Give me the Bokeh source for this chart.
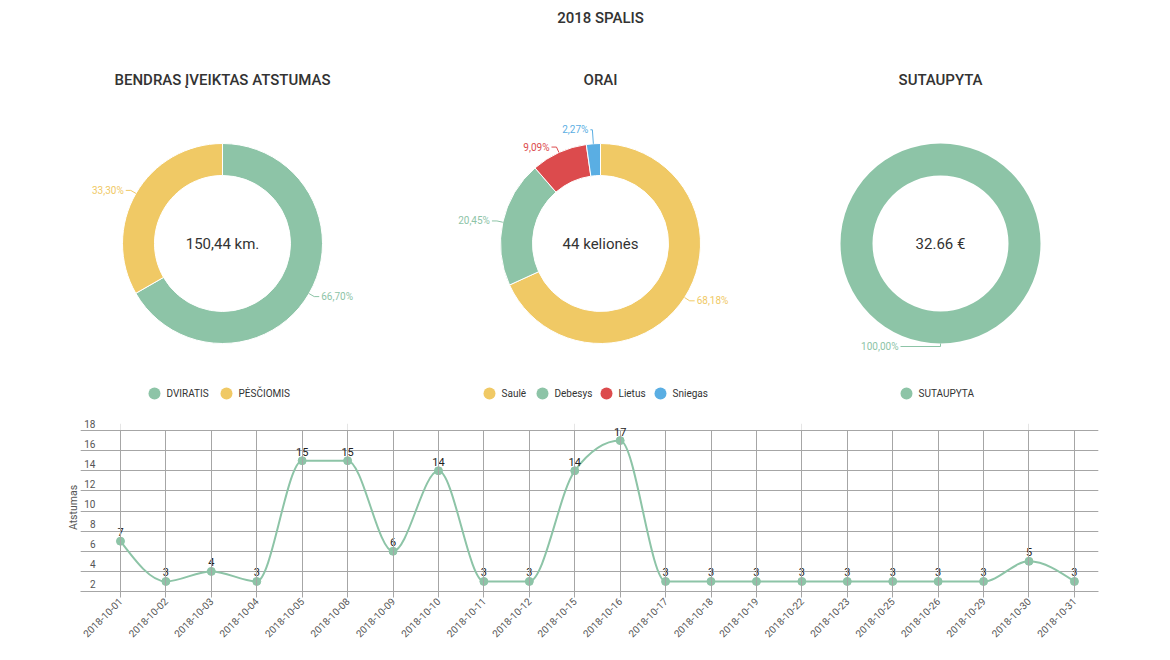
import math
import numpy as np
from bokeh.plotting import figure
from bokeh.layouts import column
from bokeh.models import Range1d, FixedTicker, LinearAxis, Grid, ColumnDataSource
from bokeh.core.properties import value
from bokeh.embed import file_html
from bokeh.resources import INLINE

# ---------------- data ----------------
MAIN_TITLE = "2018 SPALIS"

DIST_TITLE = "BENDRAS ĮVEIKTAS ATSTUMAS"
DIST_CATS = ["DVIRATIS", "PĖSČIOMIS"]
DIST_PCT = [66.70, 33.30]
DIST_CENTER = "150,44 km."

WEATHER_TITLE = "ORAI"
WEATHER_CATS = ["Saulė", "Debesys", "Lietus", "Sniegas"]
WEATHER_PCT = [68.18, 20.45, 9.09, 2.27]
WEATHER_CENTER = "44 kelionės"

SAVED_TITLE = "SUTAUPYTA"
SAVED_CATS = ["SUTAUPYTA"]
SAVED_PCT = [100.00]
SAVED_CENTER = "32.66 €"

DATES = ["2018-10-01", "2018-10-02", "2018-10-03", "2018-10-04", "2018-10-05",
         "2018-10-08", "2018-10-09", "2018-10-10", "2018-10-11", "2018-10-12",
         "2018-10-15", "2018-10-16", "2018-10-17", "2018-10-18", "2018-10-19",
         "2018-10-22", "2018-10-23", "2018-10-25", "2018-10-26", "2018-10-29",
         "2018-10-30", "2018-10-31"]
DISTANCE = [7, 3, 4, 3, 15, 15, 6, 14, 3, 3, 14, 17, 3, 3, 3, 3, 3, 3, 3, 3, 5, 3]
Y_TICKS = [2, 4, 6, 8, 10, 12, 14, 16, 18]
Y_LABEL = "Atstumas"

# ---------------- style ----------------
GREEN = "#8dc4a7"
YELLOW = "#f0c965"
RED = "#dc4b4d"
BLUE = "#5aaee3"
DARK = "#333333"
GRID = "#a6a6a6"
FONT_NAME = "Roboto"
FONT = value(FONT_NAME)
FONT_M = value("Roboto Medium, Roboto")

W = 1154
H_TOP = 408
H_BOT = 250
BL, BR = 80, 56          # shared left/right borders (column aligns frames)
R_OUT = 100
R_IN = 68


def fx(page_x):
    return page_x


def fy(page_y):
    return H_TOP - page_y


top = figure(width=W, height=H_TOP, x_range=Range1d(BL, W - BR), y_range=Range1d(0, H_TOP),
             output_backend="svg", toolbar_location=None,
             x_axis_location=None, y_axis_location=None,
             min_border_left=BL, min_border_right=BR, min_border_top=0, min_border_bottom=0)
top.grid.visible = False
top.outline_line_color = None
top.background_fill_color = "white"
top.border_fill_color = "white"

top.text(x=[fx(600)], y=[fy(17)], text=[MAIN_TITLE], text_align="center",
         text_baseline="middle", text_font=FONT_M, text_font_size="15px", text_color=DARK)


def pct_label(v):
    return ("%.2f" % v).replace(".", ",") + "%"


def donut(cx_page, pcts, cats, colors, title, center, legend_px, l1, l2):
    cx, cy = fx(cx_page), fy(243)
    total = float(sum(pcts))
    cum = np.concatenate([[0.0], np.cumsum(pcts)]) / total
    start = np.pi / 2 - 2 * np.pi * cum[:-1]
    end = np.pi / 2 - 2 * np.pi * cum[1:]
    if len(pcts) == 1:
        top.annulus(x=[cx], y=[cy], inner_radius=R_IN, outer_radius=R_OUT,
                    fill_color=colors[0], line_color=None)
    else:
        src = ColumnDataSource(dict(start=start, end=end, color=colors))
        top.annular_wedge(x=cx, y=cy, inner_radius=R_IN, outer_radius=R_OUT,
                          start_angle="start", end_angle="end", direction="clock",
                          fill_color="color", line_color="white", line_width=1, source=src)
    mid = (start + end) / 2
    xs, ys, tx, ty, tt, al, tc = [], [], [], [], [], [], []
    for i, a in enumerate(mid):
        c, s = math.cos(a), math.sin(a)
        side = 1 if c > 1e-6 else -1
        x1, y1 = cx + R_OUT * c, cy + R_OUT * s
        x2, y2 = cx + (R_OUT + l1[i]) * c, cy + (R_OUT + l1[i]) * s
        x3 = x2 + side * l2[i]
        xs.append([x1, x2, x3])
        ys.append([y1, y2, y2])
        tx.append(x3 + side * 2)
        ty.append(y2)
        tt.append(pct_label(pcts[i]))
        al.append("left" if side > 0 else "right")
        tc.append(colors[i])
    top.multi_line(xs=xs, ys=ys, line_color=tc, line_width=1)
    top.text(x=tx, y=ty, text=tt, text_align=al, text_baseline="middle",
             text_font=FONT, text_font_size="10px", text_color=tc)
    top.text(x=[cx], y=[cy], text=[center], text_align="center", text_baseline="middle",
             text_font=FONT, text_font_size="15px", text_color=DARK)
    top.text(x=[cx], y=[fy(79)], text=[title], text_align="center", text_baseline="middle",
             text_font=FONT_M, text_font_size="15px", text_color=DARK)
    lx = [fx(v) for v in legend_px]
    top.scatter(x=lx, y=[fy(393)] * len(lx), size=12, marker="circle",
                fill_color=colors, line_color=None)
    top.text(x=[v + 12 for v in lx], y=[fy(393)] * len(lx), text=cats, text_align="left",
             text_baseline="middle", text_font=FONT, text_font_size="10px", text_color=DARK)


donut(222, DIST_PCT, DIST_CATS, [GREEN, YELLOW], DIST_TITLE, DIST_CENTER,
      [154, 226], [6, 6], [5, 5])
donut(600, WEATHER_PCT, WEATHER_CATS, [YELLOW, GREEN, RED, BLUE], WEATHER_TITLE, WEATHER_CENTER,
      [489, 542, 606, 660], [6, 6, 6, 14], [5, 5, 5, 2])
donut(940, SAVED_PCT, SAVED_CATS, [GREEN], SAVED_TITLE, SAVED_CENTER,
      [906], [3], [40])

# ---------------- line chart ----------------
xv = np.arange(len(DATES), dtype=float)
yv = np.array(DISTANCE, dtype=float)

# frame: page y 423..591 (top gridline 18 at 430)
bot = figure(width=W, height=H_BOT, x_range=Range1d(-0.88, 21.53), y_range=Range1d(2, 18.7),
             output_backend="svg", toolbar_location=None,
             x_axis_location=None, y_axis_location=None,
             min_border_left=BL, min_border_right=BR,
             min_border_top=423 - H_TOP, min_border_bottom=H_TOP + H_BOT - 591)
bot.outline_line_color = None
bot.background_fill_color = "white"
bot.border_fill_color = "white"

bot.add_layout(Grid(dimension=1, ticker=FixedTicker(ticks=Y_TICKS),
                    grid_line_color=GRID, grid_line_width=1))

xaxis = LinearAxis(ticker=FixedTicker(ticks=list(range(len(DATES)))),
                   major_label_overrides={i: d for i, d in enumerate(DATES)},
                   major_label_orientation=math.pi / 4,
                   major_tick_in=161, major_tick_out=6,
                   major_tick_line_color=GRID, axis_line_color=GRID,
                   minor_tick_line_color=None, major_label_standoff=2,
                   major_label_text_font=FONT_NAME, major_label_text_font_size="10px",
                   major_label_text_color="#555555")
bot.add_layout(xaxis, "below")

bot.extra_y_ranges = {"lab": Range1d(1.3, 18.0)}
yaxis = LinearAxis(y_range_name="lab", ticker=FixedTicker(ticks=Y_TICKS),
                   axis_line_color=None, major_tick_line_color=None, minor_tick_line_color=None,
                   major_tick_in=0, major_tick_out=0, major_label_standoff=-15,
                   major_label_text_font=FONT_NAME, major_label_text_font_size="10px",
                   major_label_text_color="#555555",
                   axis_label=Y_LABEL, axis_label_standoff=1,
                   axis_label_text_font=FONT_NAME, axis_label_text_font_size="10.5px",
                   axis_label_text_font_style="normal", axis_label_text_color="#555555")
bot.add_layout(yaxis, "left")

# monotone-x cubic tangents (d3 curveMonotoneX) for the smooth line
n = len(xv)
m = np.zeros(n)
for i in range(1, n - 1):
    h0 = xv[i] - xv[i - 1]
    h1 = xv[i + 1] - xv[i]
    s0 = (yv[i] - yv[i - 1]) / h0
    s1 = (yv[i + 1] - yv[i]) / h1
    pp = (s0 * h1 + s1 * h0) / (h0 + h1)
    m[i] = (np.sign(s0) + np.sign(s1)) * min(abs(s0), abs(s1), 0.5 * abs(pp))
m[0] = (3 * (yv[1] - yv[0]) / (xv[1] - xv[0]) - m[1]) / 2
m[-1] = (3 * (yv[-1] - yv[-2]) / (xv[-1] - xv[-2]) - m[-2]) / 2
hh = np.diff(xv)
bot.bezier(x0=xv[:-1], y0=yv[:-1], x1=xv[1:], y1=yv[1:],
           cx0=xv[:-1] + hh / 3, cy0=yv[:-1] + m[:-1] * hh / 3,
           cx1=xv[1:] - hh / 3, cy1=yv[1:] - m[1:] * hh / 3,
           line_color=GREEN, line_width=2)
bot.scatter(x=xv, y=yv, size=8, marker="circle", fill_color=GREEN, line_color=GREEN)
bot.text(x=xv, y=yv, text=[str(v) for v in DISTANCE], y_offset=-5, text_align="center",
         text_baseline="bottom", text_font=FONT, text_font_size="11px", text_color="#222222")

layout = column(top, bot, spacing=0)
open("out.html", "w").write(file_html(layout, INLINE))
